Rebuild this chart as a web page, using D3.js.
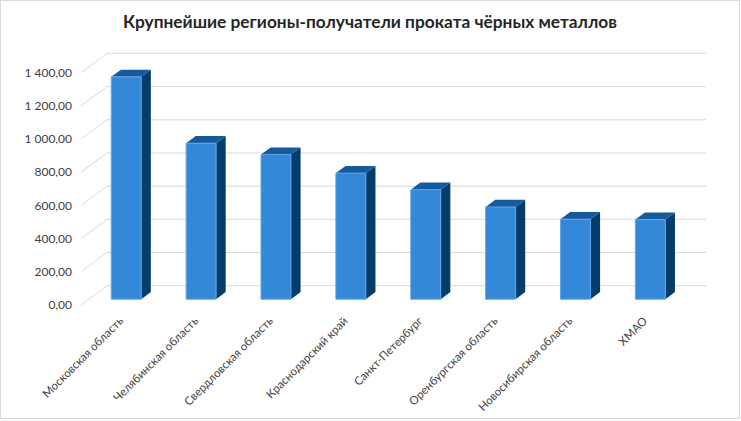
<!DOCTYPE html>
<html>
<head>
<meta charset="utf-8">
<script src="https://cdn.jsdelivr.net/npm/d3@7"></script>
<style>
  html, body { margin: 0; padding: 0; background: #fff; }
  svg { display: block; font-family: Lato, "Open Sans", sans-serif; }
</style>
</head>
<body>
<svg id="chart"></svg>
<script>
// Data
const regions = [
  "Московская область",
  "Челябинская область",
  "Свердловская область",
  "Краснодарский край",
  "Санкт-Петербург",
  "Оренбургская область",
  "Новосибирская область",
  "ХМАО"
];
const volumes = [1340, 940, 872, 760, 660, 556, 482, 480];
const yTicks = [0, 200, 400, 600, 800, 1000, 1200, 1400];
const chartTitle = "Крупнейшие регионы-получатели проката чёрных металлов";

const width = 741, height = 421;

const svg = d3.select("#chart")
  .attr("width", width)
  .attr("height", height);

// Chart frame
svg.append("rect")
  .attr("x", 0.5).attr("y", 0.5)
  .attr("width", width - 2).attr("height", height - 3)
  .attr("fill", "#fff")
  .attr("stroke", "#d9d9d9");

// Front plane scales + oblique depth offset
const depthX = 26, depthY = -19.3;
const x = d3.scaleBand()
  .domain(regions)
  .range([81, 680])
  .paddingInner(0.6)
  .paddingOuter(0.3);
const y = d3.scaleLinear()
  .domain([0, 1400])
  .range([305, 72.7]);

const proj = (px, v, d) => [px + depthX * d, y(v) + depthY * d];
const poly = pts => pts.map(p => p.join(",")).join(" ");

// Gridlines: back wall and left side wall
const grid = svg.append("g");
yTicks.forEach(t => {
  const a = proj(x.range()[0], t, 0), b = proj(x.range()[0], t, 1), c = proj(x.range()[1], t, 1);
  grid.append("polyline")
    .attr("points", poly([a, b, c]))
    .attr("fill", "none")
    .attr("stroke", "#d9d9d9")
    .attr("stroke-width", 1);
});

// Y axis labels
const fmt = d3.formatLocale({ decimal: ",", thousands: " ", grouping: [3], currency: ["", ""] }).format(",.2f");
svg.append("g")
  .selectAll("text")
  .data(yTicks)
  .join("text")
  .attr("x", 72)
  .attr("y", d => y(d))
  .attr("dy", "0.35em")
  .attr("text-anchor", "end")
  .attr("font-size", "12px")
  .attr("fill", "#404040")
  .text(d => fmt(d));

// Bars (3D columns)
const d0 = 0.3, d1 = 0.67;
const bars = svg.append("g")
  .selectAll("g")
  .data(regions.map((r, i) => ({ region: r, value: volumes[i] })))
  .join("g");

bars.append("polygon") // side
  .attr("points", d => {
    const xr = x(d.region) + x.bandwidth();
    return poly([proj(xr, d.value, d0), proj(xr, d.value, d1), proj(xr, 0, d1), proj(xr, 0, d0)]);
  })
  .attr("fill", "#043c6c");

bars.append("polygon") // top
  .attr("points", d => {
    const xl = x(d.region), xr = xl + x.bandwidth();
    return poly([proj(xl, d.value, d0), proj(xr, d.value, d0), proj(xr, d.value, d1), proj(xl, d.value, d1)]);
  })
  .attr("fill", "#155a9a");

bars.append("polygon") // front
  .attr("points", d => {
    const xl = x(d.region), xr = xl + x.bandwidth();
    return poly([proj(xl, d.value, d0), proj(xr, d.value, d0), proj(xr, 0, d0), proj(xl, 0, d0)]);
  })
  .attr("fill", "#3388d8")
  .attr("stroke", "#5fa6e8")
  .attr("stroke-width", 1);

// Category labels, rotated
svg.append("g")
  .selectAll("text")
  .data(regions)
  .join("text")
  .attr("transform", r => {
    const c = proj(x(r) + x.bandwidth() / 2, 0, d0);
    return `translate(${c[0] - 8},${316}) rotate(-45)`;
  })
  .attr("dy", "0.7em")
  .attr("text-anchor", "end")
  .attr("font-size", "11.5px")
  .attr("fill", "#404040")
  .text(r => r);

// Title
svg.append("text")
  .attr("x", 370)
  .attr("y", 28)
  .attr("text-anchor", "middle")
  .attr("font-size", "17.3px")
  .attr("font-weight", "bold")
  .attr("fill", "#262626")
  .text(chartTitle);
</script>
</body>
</html>
